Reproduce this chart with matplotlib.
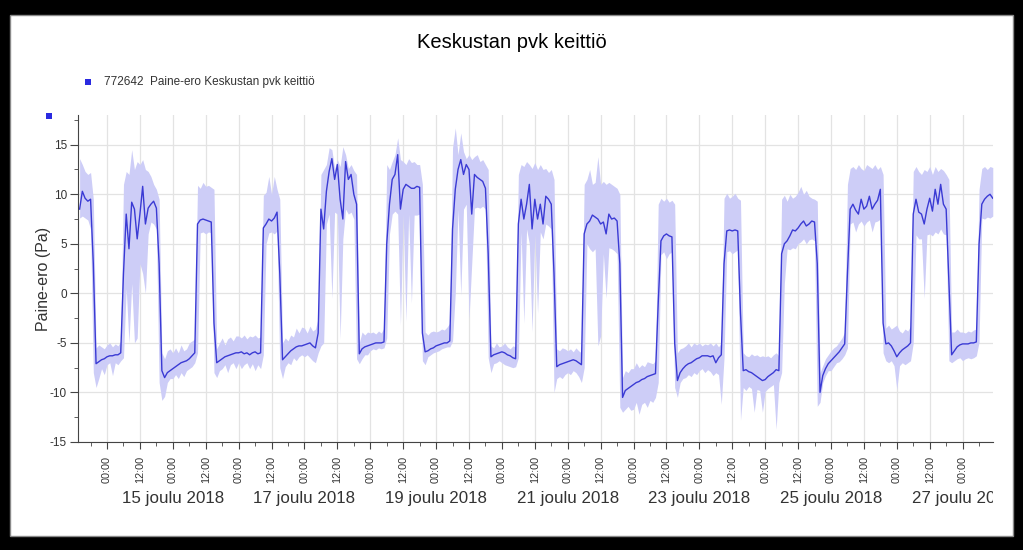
"""Paine-ero chart: Keskustan pvk keittiö, 13.-27.12.2018."""

import matplotlib
matplotlib.use('Agg')
import matplotlib.pyplot as plt
import matplotlib.dates as mdates
import pandas as pd

from matplotlib.patches import Rectangle
from matplotlib.ticker import MultipleLocator
from matplotlib.transforms import Bbox, TransformedBbox


W, H = 1023, 550

TITLE = 'Keskustan pvk keittiö'
SERIES_LABEL = '772642  Paine-ero Keskustan pvk keittiö'
Y_LABEL = 'Paine-ero (Pa)'

# hourly samples, first one at 13.12.2018 14:00
START = '2018-12-13 14:00'
X_MIN = '2018-12-13 13:25'
X_MAX = '2018-12-27 11:05'
DATE_LABELS = ['2018-12-15', '2018-12-17', '2018-12-19', '2018-12-21',
               '2018-12-23', '2018-12-25', '2018-12-27']

# hourly mean (Pa), one row per day
pressure_mean = [
    8.5, 10.3, 9.6, 9.3, 9.5, 3.0, -7.1, -6.9, -6.7, -6.6,  # 13.12. 14-23
    -6.4, -6.3, -6.3, -6.2, -6.2, -6.0, 2.0, 8.0, 4.5, 9.2, 8.5, 5.5,
    8.0, 10.8, 7.0, 8.6, 9.0, 9.3, 8.6, 3.0, -7.8, -8.5, -8.0, -7.8,  # 14.12.
    -7.6, -7.4, -7.2, -7.0, -6.9, -6.8, -6.6, -6.3, -6.0, 7.0, 7.4, 7.5,
    7.4, 7.3, 7.2, -3.0, -7.0, -6.8, -6.6, -6.4, -6.3, -6.2, -6.1, -6.0,  # 15.12.
    -6.0, -5.9, -6.1, -6.0, -6.2, -6.0, -5.9, -6.1, -6.0, 6.6, 7.0, 7.5,
    7.3, 7.6, 8.2, 2.0, -6.7, -6.4, -6.1, -5.8, -5.6, -5.4, -5.3, -5.3,  # 16.12.
    -5.2, -5.1, -5.0, -5.3, -5.5, -4.0, 8.5, 6.5, 10.3, 12.3, 13.6, 11.5,
    13.0, 9.5, 7.5, 13.3, 11.5, 12.0, 10.0, 9.0, -6.1, -5.6, -5.4, -5.3,  # 17.12.
    -5.2, -5.1, -5.0, -5.0, -5.0, -4.9, 5.0, 9.0, 11.5, 12.0, 14.0, 8.5,
    10.5, 11.0, 10.8, 10.6, 10.6, 10.8, 10.7, -4.0, -5.9, -5.8, -5.6, -5.5,  # 18.12.
    -5.3, -5.2, -5.1, -5.0, -5.0, -4.8, 6.5, 10.5, 12.5, 13.5, 12.0, 13.0,
    12.5, 8.0, 12.0, 11.7, 11.5, 11.3, 10.6, 4.0, -6.4, -6.2, -6.1, -6.0,  # 19.12.
    -5.9, -6.0, -6.2, -6.3, -6.5, -6.6, 7.0, 9.5, 7.5, 9.0, 11.0, 6.5,
    9.5, 7.5, 9.0, 7.0, 9.8, 9.5, 9.0, 2.0, -7.4, -7.2, -7.1, -7.0,  # 20.12.
    -6.9, -6.8, -6.7, -6.8, -7.0, -7.2, 6.0, 7.0, 7.3, 7.9, 7.7, 7.5,
    7.0, 7.2, 6.0, 8.0, 7.5, 7.6, 7.3, 3.0, -10.5, -9.8, -9.6, -9.4,  # 21.12.
    -9.2, -9.0, -8.9, -8.7, -8.6, -8.4, -8.3, -8.2, -8.1, -1.0, 5.3, 5.8,
    6.0, 5.8, 5.7, -5.0, -8.8, -8.0, -7.6, -7.3, -7.1, -7.0, -6.8, -6.6,  # 22.12.
    -6.5, -6.3, -6.3, -6.3, -6.4, -6.3, -7.0, -6.5, -6.2, 3.0, 6.3, 6.4,
    6.3, 6.4, 6.3, -2.0, -7.8, -7.7, -7.9, -8.0, -8.2, -8.4, -8.6, -8.8,  # 23.12.
    -8.7, -8.4, -8.2, -8.0, -7.7, -7.8, 4.0, 5.0, 5.3, 5.8, 6.4, 6.3,
    6.6, 7.0, 7.3, 6.8, 7.0, 7.3, 7.2, 3.0, -10.0, -8.3, -7.6, -7.1,  # 24.12.
    -6.8, -6.5, -6.2, -5.9, -5.5, -5.1, 2.0, 8.5, 9.0, 8.4, 8.0, 9.5,
    8.5, 8.8, 9.8, 8.5, 9.0, 9.4, 10.5, -3.0, -5.1, -5.0, -5.3, -5.8,  # 25.12.
    -6.4, -6.0, -5.7, -5.5, -5.3, -5.0, 8.0, 9.5, 8.2, 8.0, 7.0, 8.5,
    9.6, 8.3, 10.5, 9.0, 11.0, 9.0, 8.5, 1.0, -6.2, -5.8, -5.4, -5.2,  # 26.12.
    -5.1, -5.1, -5.1, -5.0, -5.0, -4.9, 5.0, 9.0, 9.5, 9.8, 10.0, 9.6,  # 27.12. 0-11
]

# hourly maximum (Pa)
pressure_max = [
    13.6, 13.0, 12.3, 12.0, 12.2, 9.5, -5.5, -5.2, -5.4, -5.6,
    -5.2, -5.0, -5.4, -5.1, -5.3, -4.8, 11.0, 12.3, 12.0, 14.5, 12.5, 13.3,
    13.0, 13.5, 12.5, 12.3, 11.8, 11.0, 10.5, 9.5, -6.0, -6.6, -5.8, -5.6,
    -6.0, -5.5, -6.0, -5.2, -5.8, -5.6, -5.0, -4.8, -4.6, 10.9, 10.6, 11.2,
    10.8, 10.9, 10.7, 10.5, -5.6, -5.0, -4.5, -5.2, -4.6, -4.4, -4.8, -4.3,
    -4.3, -4.5, -4.2, -4.6, -4.3, -4.4, -4.2, -4.5, -4.4, 9.9, 10.2, 11.8,
    10.0, 11.8, 10.5, 9.5, -5.0, -4.5, -4.8, -4.2, -4.4, -3.5, -4.0, -3.4,
    -3.5, -4.0, -3.3, -3.8, -3.6, -2.5, 12.0, 12.5, 13.0, 14.7, 14.5, 12.6,
    13.5, 12.8, 14.8, 14.0, 12.6, 13.0, 12.4, 12.0, -5.0, -3.9, -4.2, -3.9,
    -4.0, -3.9, -4.1, -3.8, -4.0, -3.5, 13.0, 12.5, 13.3, 14.0, 15.7, 13.5,
    13.3, 13.0, 13.6, 13.2, 13.3, 13.0, 13.0, 11.0, -3.9, -4.2, -3.9, -3.8,
    -3.9, -3.8, -3.6, -3.7, -3.4, -3.0, 14.7, 16.7, 14.0, 16.2, 14.3, 13.6,
    14.0, 13.5, 13.8, 14.0, 13.3, 13.5, 13.0, 12.5, -5.3, -5.5, -5.0, -5.4,
    -5.3, -5.0, -5.4, -5.6, -5.3, -5.4, 12.0, 13.0, 12.8, 13.3, 13.0, 12.6,
    13.2, 12.5, 13.0, 12.5, 12.6, 12.2, 12.5, 11.5, -5.6, -5.8, -5.5, -5.6,
    -5.8, -5.6, -5.9, -5.5, -5.8, -6.0, 11.0, 11.5, 12.5, 11.0, 11.2, 13.8,
    11.0, 11.3, 11.0, 11.2, 11.0, 10.8, 10.6, 10.0, -8.5, -7.8, -8.0, -7.6,
    -7.6, -7.0, -7.5, -7.2, -7.4, -6.9, -7.0, -7.1, -6.8, 9.0, 9.6, 9.3,
    9.6, 9.2, 9.4, 9.0, -6.0, -5.6, -5.5, -5.3, -5.0, -5.4, -5.0, -5.2,
    -5.0, -5.3, -5.1, -5.2, -5.0, -5.3, -5.0, -5.4, -5.0, 9.6, 10.1, 9.6,
    9.8, 10.1, 9.6, 9.4, -6.0, -6.3, -6.4, -6.1, -6.3, -6.2, -6.4, -6.3,
    -6.4, -6.3, -6.5, -6.2, -6.0, -6.3, 9.5, 9.9, 9.3, 10.0, 9.6, 9.8,
    10.2, 10.8, 10.0, 10.4, 9.8, 9.6, 9.5, 9.3, -8.0, -7.3, -6.6, -6.2,
    -5.8, -5.5, -5.3, -4.9, -4.5, -3.9, 11.0, 12.6, 12.8, 12.5, 13.0, 12.6,
    12.4, 13.0, 12.8, 12.6, 13.0, 12.5, 12.8, 12.0, -3.5, -3.2, -3.6, -3.4,
    -3.2, -3.8, -4.0, -3.6, -3.8, -3.3, 12.3, 12.8, 12.3, 12.0, 12.5, 12.3,
    12.8, 12.0, 12.8, 12.3, 12.6, 12.4, 12.0, 11.5, -3.9, -3.9, -3.6, -3.9,
    -3.9, -4.0, -3.8, -3.9, -3.7, -3.6, 10.5, 12.6, 12.8, 12.5, 12.8, 12.7,
]

# hourly minimum (Pa)
pressure_min = [
    7.6, 7.8, 7.6, 7.4, 6.5, -8.0, -9.5, -8.6, -7.6, -8.2,
    -7.2, -7.0, -8.3, -7.0, -7.2, -6.8, -6.5, 0.5, -5.0, 1.0, -5.0, -4.5,
    3.0, 2.0, 0.0, 6.0, 7.2, 7.0, 6.5, -9.0, -10.8, -10.4, -9.0, -8.6,
    -8.6, -8.2, -8.6, -8.0, -8.4, -7.8, -7.6, -7.4, -7.0, -6.0, 6.1, 6.2,
    6.0, 6.2, 6.1, -8.0, -8.5, -7.8, -7.6, -7.2, -8.0, -7.2, -7.0, -7.6,
    -7.0, -7.6, -7.2, -7.0, -7.6, -7.1, -7.8, -7.2, -7.6, -6.2, 5.0, 6.1,
    6.2, 6.0, 6.3, -7.5, -8.6, -7.4, -7.0, -7.2, -6.5, -6.8, -6.4, -6.2,
    -6.4, -6.2, -6.5, -6.8, -7.0, -6.0, -5.3, -5.0, 7.0, 8.0, -0.5, 8.2,
    8.0, -4.6, 5.5, 8.5, 8.0, 8.2, 7.5, -6.6, -7.1, -6.6, -6.2, -6.2,
    -5.8, -5.6, -5.7, -5.5, -5.6, -5.5, -4.5, 6.0, 8.0, 8.3, 8.0, -3.2,
    8.0, -2.8, 8.0, -1.0, 7.9, 7.9, 8.0, -6.8, -7.2, -6.4, -6.2, -6.0,
    -5.9, -5.8, -5.6, -5.5, -5.4, -5.4, -4.8, 0.0, 8.5, -0.2, 8.5, 9.0,
    -2.6, 3.0, 8.6, 8.7, 8.6, 8.8, 8.5, -6.5, -8.0, -7.1, -7.0, -6.8,
    -7.0, -7.2, -7.3, -7.4, -7.5, -7.4, -6.5, 6.2, -3.0, 6.5, 5.0, -3.9,
    6.0, -2.0, 6.2, 5.5, 7.0, 6.8, 6.5, -10.0, -8.6, -8.4, -8.6, -8.2,
    -8.0, -8.2, -7.8, -8.0, -8.4, -9.0, -7.5, 5.0, 4.5, 4.2, 4.5, -5.3,
    -4.3, 4.0, -0.5, 4.6, 4.5, 4.3, 4.0, -11.5, -12.0, -11.7, -11.4, -11.8,
    -11.7, -11.0, -12.2, -11.2, -11.0, -11.5, -10.8, -11.0, -10.5, -9.0, 3.9, 4.2,
    3.5, 4.0, 4.2, -9.5, -10.5, -9.0, -8.6, -8.5, -8.2, -8.4, -8.0, -8.2,
    -7.8, -7.6, -8.0, -7.7, -7.9, -8.3, -8.0, -8.2, -11.2, -6.5, 4.2, 4.3,
    4.0, 4.2, 4.4, -12.8, -9.5, -9.8, -9.4, -9.6, -12.0, -9.7, -9.8, -12.0,
    -9.9, -9.6, -9.4, -9.2, -13.7, -9.0, -8.0, 1.0, 4.5, 4.4, 4.6, 4.5,
    5.0, 5.2, 5.5, 5.0, 5.4, 5.5, 5.3, -11.4, -11.0, -9.0, -8.3, -7.8,
    -7.8, -7.4, -7.0, -6.9, -6.6, -6.2, -5.5, 7.0, 7.2, 6.2, 7.0, 7.3,
    6.8, 7.2, 7.4, 6.2, 7.2, 7.3, 7.5, -6.0, -6.8, -7.0, -6.8, -7.3,
    -9.7, -7.3, -7.0, -7.2, -7.0, -6.8, -5.0, 5.9, 5.5, 5.5, -0.5, 5.9,
    6.0, 5.8, 6.2, 6.0, 6.5, 6.0, 5.9, -6.8, -7.0, -6.8, -6.6, -6.5,
    -6.8, -6.6, -6.5, -6.6, -6.5, -6.3, -4.9, 7.6, 7.5, 7.7, 7.6, 7.8,
]

LINE_COLOR = '#3a3ad4'
BAND_COLOR = '#cdcdf7'
TEXT_COLOR = '#333333'
GRID_COLOR = '#e3e3e3'

plt.rcParams['font.family'] = ['Liberation Sans', 'DejaVu Sans']
plt.rcParams['axes.unicode_minus'] = False


def _px_box(x0, y0, x1, y1):
    """Figure-fraction rectangle from pixel corners (origin top left)."""
    return x0 / W, 1 - y1 / H, (x1 - x0) / W, (y1 - y0) / H


def _setup_figure():
    """Black frame with the white chart panel and the axes."""
    fig = plt.figure(figsize=(W / 100, H / 100), dpi=100, facecolor='black')
    x, y, w, h = _px_box(10, 15, 1013, 536)
    # panel goes under the axes
    fig.patches.append(Rectangle((x, y), w, h, transform=fig.transFigure,
                                 facecolor='white', edgecolor='#8a8a8a',
                                 lw=1.0, zorder=-10))
    ax = fig.add_axes(_px_box(78, 115, 993, 442))
    ax.patch.set_alpha(0)
    return fig, ax


def _plot_series(ax):
    times = pd.date_range(START, periods=len(pressure_mean), freq='h')
    ax.fill_between(times, pressure_min, pressure_max, color=BAND_COLOR,
                    lw=0, zorder=2)
    ax.plot(times, pressure_mean, color=LINE_COLOR, lw=1.0, zorder=3)


def _style_axes(fig, ax):
    ax.set_xlim(pd.Timestamp(X_MIN), pd.Timestamp(X_MAX))
    ax.set_ylim(-15, 18)
    ax.yaxis.set_major_locator(MultipleLocator(5))
    ax.yaxis.set_minor_locator(MultipleLocator(2.5))
    ax.xaxis.set_major_locator(mdates.HourLocator(byhour=[0, 12]))
    ax.xaxis.set_minor_locator(mdates.HourLocator(byhour=[6, 18]))
    ax.xaxis.set_major_formatter(mdates.DateFormatter('%H:%M'))

    ax.set_axisbelow(True)
    ax.grid(True, which='major', color=GRID_COLOR, lw=0.9)
    for side in ('top', 'right'):
        ax.spines[side].set_visible(False)
    for side in ('left', 'bottom'):
        ax.spines[side].set_color('#444444')

    ax.tick_params(axis='y', which='major', length=6, pad=2, labelsize=8.5,
                   colors='#444444', labelcolor=TEXT_COLOR)
    ax.tick_params(axis='y', which='minor', length=3, colors='#444444')
    ax.tick_params(axis='x', which='major', length=5, pad=5, labelsize=7.8,
                   labelrotation=90, colors='#444444', labelcolor=TEXT_COLOR)
    ax.tick_params(axis='x', which='minor', length=3, colors='#444444')

    ax.set_ylabel(Y_LABEL, fontsize=11.5, color=TEXT_COLOR)
    ax.yaxis.set_label_coords(-0.029, 0.5)

    # second row of date labels, cut at the end of the x axis
    clip = TransformedBbox(Bbox.from_extents(0, 0, 993 / W, 1), fig.transFigure)
    for day in DATE_LABELS:
        d = pd.Timestamp(day)
        txt = ax.text(d, -0.172, f'{d.day} joulu {d.year}',
                      transform=ax.get_xaxis_transform(), ha='center',
                      va='center', fontsize=12.2, color=TEXT_COLOR)
        txt.set_clip_path(None)
        txt.set_clip_box(clip)
        txt.set_clip_on(True)


def _add_texts(fig):
    fig.text(0.5, 1 - 48 / H, TITLE, ha='center', va='baseline',
             fontsize=14.5, color='black')
    # legend entry and the lone marker above the y axis
    for x0, y0, size in ((85, 79, 6), (46, 113, 6)):
        x, y, w, h = _px_box(x0, y0, x0 + size, y0 + size)
        fig.add_artist(Rectangle((x, y), w, h, transform=fig.transFigure,
                                 facecolor='#2a2ae0', edgecolor='none'))
    fig.text(104 / W, 1 - 85 / H, SERIES_LABEL, ha='left', va='baseline',
             fontsize=8.5, color=TEXT_COLOR)


def main():
    fig, ax = _setup_figure()
    _plot_series(ax)
    _style_axes(fig, ax)
    _add_texts(fig)
    fig.savefig('out.png', dpi=100, facecolor=fig.get_facecolor())


if __name__ == '__main__':
    main()
